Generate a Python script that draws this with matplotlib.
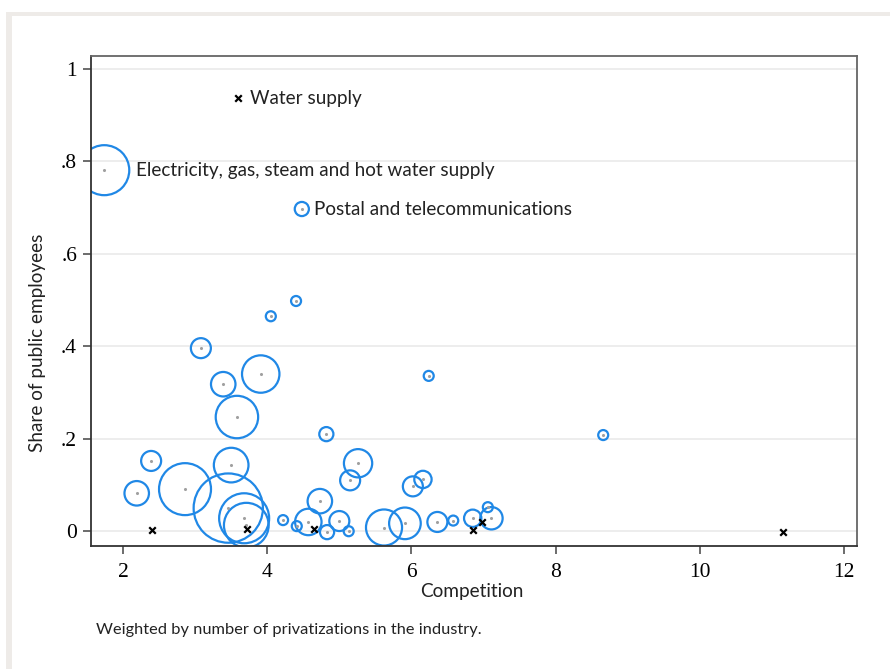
import matplotlib
matplotlib.use("Agg")
from matplotlib import pyplot as plt
from matplotlib.patches import Rectangle

# industries with privatizations (bubble = number of privatizations)
comp = [1.74, 4.48, 3.08, 3.39, 3.91, 3.58, 4.05, 4.40, 6.24, 4.82,
        8.66, 2.39, 2.19, 2.86, 3.50, 3.46, 3.68, 3.71, 4.22, 4.41,
        4.57, 4.73, 4.83, 5.00, 5.13, 5.15, 5.26, 5.62, 5.91, 6.02,
        6.16, 6.36, 6.58, 6.85, 7.06, 7.11]
share = [0.781, 0.697, 0.396, 0.318, 0.340, 0.247, 0.465, 0.498, 0.336, 0.210,
         0.208, 0.152, 0.082, 0.091, 0.143, 0.050, 0.028, 0.013, 0.024, 0.011,
         0.020, 0.065, -0.002, 0.022, 0.000, 0.110, 0.147, 0.008, 0.017, 0.097,
         0.112, 0.020, 0.023, 0.028, 0.052, 0.028]
n_priv = [25, 2, 4, 6, 14, 18, 1, 1, 1, 2,
          1, 4, 6, 27, 12, 48, 25, 20, 1, 1,
          7, 6, 2, 4, 1, 4, 8, 13, 10, 4,
          3, 4, 1, 3, 1, 5]

# industries without privatizations
comp0 = [3.59, 2.40, 3.72, 4.65, 6.85, 6.98, 11.15]
share0 = [0.937, 0.002, 0.004, 0.004, 0.002, 0.020, -0.002]

labels = [("Water supply", 3.59, 0.937, 8.6),
          ("Electricity, gas, steam and hot water supply", 1.74, 0.781, 23),
          ("Postal and telecommunications", 4.48, 0.697, 8.6)]

xticks = [2, 4, 6, 8, 10, 12]
yticks = [0, 0.2, 0.4, 0.6, 0.8, 1]
ytick_labels = ["0", ".2", ".4", ".6", ".8", "1"]

sans = ["Lato", "DejaVu Sans"]
serif = ["Liberation Serif", "DejaVu Serif"]

fig = plt.figure(figsize=(8.9, 6.69), dpi=100)
fig.patch.set_facecolor("white")
# light frame along the left and top edges
fig.add_artist(Rectangle((6 / 890, 0), 6 / 890, 1 - 12 / 669, transform=fig.transFigure,
                         facecolor="#eeebe8", edgecolor="none"))
fig.add_artist(Rectangle((6 / 890, 1 - 16 / 669), 1, 4 / 669, transform=fig.transFigure,
                         facecolor="#eeebe8", edgecolor="none"))

ax = fig.add_axes([91 / 890, 1 - 546 / 669, 766 / 890, 490 / 669])
ax.set_xlim(1.556, 12.18)
ax.set_ylim(-0.032, 1.028)

for y in yticks:
    ax.axhline(y, color="#ececec", lw=1.3, zorder=0)

sizes = [51.84 * w for w in n_priv]
ax.scatter(comp, share, s=sizes, facecolors="none", edgecolors="#2088e6",
           linewidths=1.6, zorder=2)
ax.scatter(comp, share, s=1.5, color="#a0a0a0", zorder=3)
ax.scatter(comp0, share0, s=22, marker="x", color="black", linewidths=1.6, zorder=4)

for text, x, y, off in labels:
    ax.annotate(text, (x, y), xytext=(off, 0), textcoords="offset points",
                va="center", ha="left", fontsize=13.6, family=sans, color="#222222")

ax.set_xticks(xticks)
ax.set_xticklabels([str(t) for t in xticks], family=serif, fontsize=15.5)
ax.set_yticks(yticks)
ax.set_yticklabels(ytick_labels, family=serif, fontsize=15.5)
ax.tick_params(direction="out", length=6, width=1.1, color="#444444", pad=4)
ax.tick_params(axis="x", pad=6)

for side in ["left", "bottom"]:
    ax.spines[side].set_color("#333333")
    ax.spines[side].set_linewidth(1.3)
for side in ["top", "right"]:
    ax.spines[side].set_color("#666666")
    ax.spines[side].set_linewidth(1.3)

fig.text(472 / 890, 1 - 591 / 669, "Competition", ha="center", va="center",
         fontsize=13.7, family=sans, color="#222222")
fig.text(38 / 890, 1 - 343 / 669, "Share of public employees", ha="center", va="center",
         rotation=90, fontsize=13.6, family=sans, color="#222222")
fig.text(96 / 890, 1 - 630 / 669, "Weighted by number of privatizations in the industry.",
         ha="left", va="center", fontsize=11.8, family=sans, color="#222222")

fig.savefig("out.png", dpi=100)
